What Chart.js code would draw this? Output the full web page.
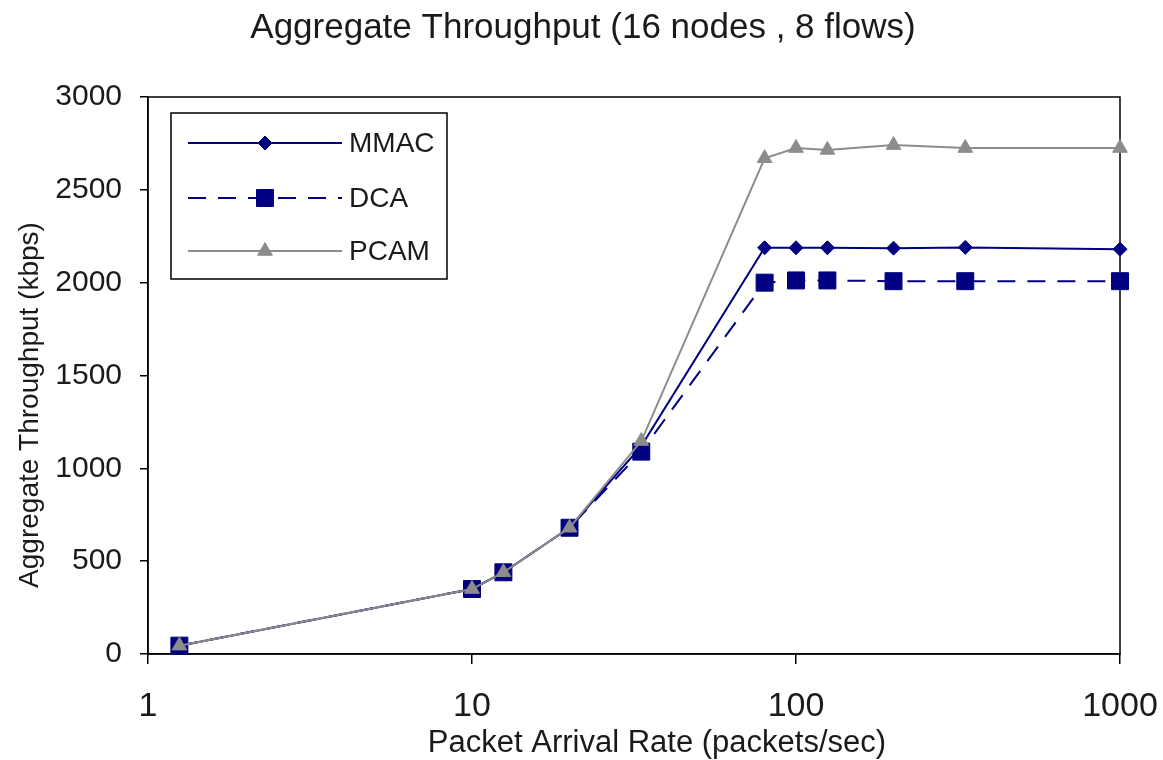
<!DOCTYPE html>
<html><head><meta charset="utf-8">
<script src="https://cdn.jsdelivr.net/npm/chart.js@4/dist/chart.umd.min.js"></script>
<style>html,body{margin:0;padding:0;background:#fff}#wrap{width:1163px;height:760px;position:relative}</style>
</head><body><div id="wrap"><canvas id="c" width="1163" height="760"></canvas></div>
<script>
// ---- data ----
const rates = [1.25, 10, 12.5, 20, 33.3, 80, 100, 125, 200, 333, 1000];
const mmac  = [45, 350, 440, 680, 1120, 2188, 2188, 2188, 2186, 2190, 2180];
const dca   = [45, 350, 440, 680, 1090, 2000, 2012, 2012, 2008, 2008, 2008];
const pcam  = [45, 350, 440, 680, 1147, 2670, 2725, 2715, 2741, 2725, 2725];
const xTickValues = [1, 10, 100, 1000];
const seriesNames = ['MMAC', 'DCA', 'PCAM'];
const chartTitle = 'Aggregate Throughput (16 nodes , 8 flows)';
const xTitle = 'Packet Arrival Rate (packets/sec)';
const yTitle = 'Aggregate Throughput (kbps)';

const FONT = '"Liberation Sans", Arial, sans-serif';
const TEXT = '#1a1a1a';
const NAVY = '#000080';
const GREY = '#8c8c8c';

const pts = arr => rates.map((r, i) => ({x: r, y: arr[i]}));

const framePlugin = {
  id: 'frame',
  beforeDatasetsDraw(chart) {
    const {ctx, chartArea: a} = chart;
    ctx.save();
    ctx.strokeStyle = '#000'; ctx.lineWidth = 1.5;
    ctx.strokeRect(a.left, a.top, a.right - a.left, a.bottom - a.top);
    ctx.restore();
  }
};

const titlesPlugin = {
  id: 'titles',
  afterDraw(chart) {
    const ctx = chart.ctx;
    ctx.save();
    ctx.fillStyle = TEXT;
    ctx.textAlign = 'center'; ctx.textBaseline = 'middle';
    ctx.font = '35px ' + FONT;
    ctx.fillText(chartTitle, 583, 28);
    ctx.font = '31px ' + FONT;
    ctx.fillText(xTitle, 657, 743);
    ctx.translate(30, 405);
    ctx.rotate(-Math.PI / 2);
    ctx.font = '28px ' + FONT;
    ctx.fillText(yTitle, 0, 0);
    ctx.restore();
  }
};

const legendPlugin = {
  id: 'boxLegend',
  afterDraw(chart) {
    const ctx = chart.ctx;
    ctx.save();
    const bx = 171, by = 113, bw = 276, bh = 166;
    ctx.fillStyle = '#fff'; ctx.fillRect(bx, by, bw, bh);
    ctx.strokeStyle = '#000'; ctx.lineWidth = 1.5; ctx.strokeRect(bx, by, bw, bh);
    const rows = [143, 198, 251];
    chart.data.datasets.forEach((ds, i) => {
      const y = rows[i];
      ctx.beginPath();
      ctx.setLineDash(ds.borderDash || []);
      ctx.strokeStyle = ds.borderColor; ctx.lineWidth = ds.borderWidth;
      ctx.moveTo(188, y); ctx.lineTo(342, y); ctx.stroke();
      ctx.setLineDash([]);
      ctx.fillStyle = ds.pointBackgroundColor; ctx.strokeStyle = ds.pointBorderColor; ctx.lineWidth = 1;
      Chart.helpers.drawPoint(ctx, {pointStyle: ds.pointStyle, radius: ds.pointRadius, rotation: 0, borderWidth: 1}, 265, y);
      ctx.fillStyle = TEXT; ctx.font = '28px ' + FONT;
      ctx.textAlign = 'left'; ctx.textBaseline = 'middle';
      ctx.fillText(ds.label, 349, y + 1);
    });
    ctx.restore();
  }
};

new Chart(document.getElementById('c'), {
  type: 'line',
  data: {
    datasets: [
      {label: seriesNames[0], data: pts(mmac), borderColor: NAVY, borderWidth: 2, pointStyle: 'rectRot', pointRadius: 7,
       pointBackgroundColor: NAVY, pointBorderColor: NAVY, pointBorderWidth: 1, order: 2, clip: false},
      {label: seriesNames[1], data: pts(dca), borderColor: NAVY, borderWidth: 2, borderDash: [18, 12], pointStyle: 'rect', pointRadius: 12,
       pointBackgroundColor: NAVY, pointBorderColor: NAVY, pointBorderWidth: 1, order: 3, clip: false},
      {label: seriesNames[2], data: pts(pcam), borderColor: GREY, borderWidth: 2, pointStyle: 'triangle', pointRadius: 8.5,
       pointBackgroundColor: GREY, pointBorderColor: GREY, pointBorderWidth: 1, order: 1, clip: false}
    ]
  },
  options: {
    responsive: false,
    animation: false,
    events: [],
    layout: {padding: {left: 0, right: 43, top: 97, bottom: 0}},
    elements: {line: {tension: 0, fill: false}},
    plugins: {
      legend: {display: false},
      tooltip: {enabled: false},
      title: {display: false}
    },
    scales: {
      x: {
        type: 'logarithmic', min: 1, max: 1000,
        afterBuildTicks: s => { s.ticks = xTickValues.map(v => ({value: v, major: true})); },
        afterFit: s => { s.height = 106; },
        ticks: {autoSkip: false, maxRotation: 0, color: TEXT, padding: 2,
                font: {family: FONT, size: 34, lineHeight: 2.4}, callback: v => String(v)},
        grid: {drawOnChartArea: false, drawTicks: true, tickLength: 10, color: '#000', lineWidth: 1.5},
        border: {display: true, color: '#000', width: 1.5},
        title: {display: false}
      },
      y: {
        min: 0, max: 3000,
        afterFit: s => { s.width = 148; },
        ticks: {stepSize: 500, color: TEXT, padding: 18, font: {family: FONT, size: 30}, callback: v => String(v)},
        grid: {drawOnChartArea: false, drawTicks: true, tickLength: 8, color: '#000', lineWidth: 1.5},
        border: {display: true, color: '#000', width: 1.5},
        title: {display: false}
      }
    }
  },
  plugins: [framePlugin, titlesPlugin, legendPlugin]
});
</script>
</body></html>
